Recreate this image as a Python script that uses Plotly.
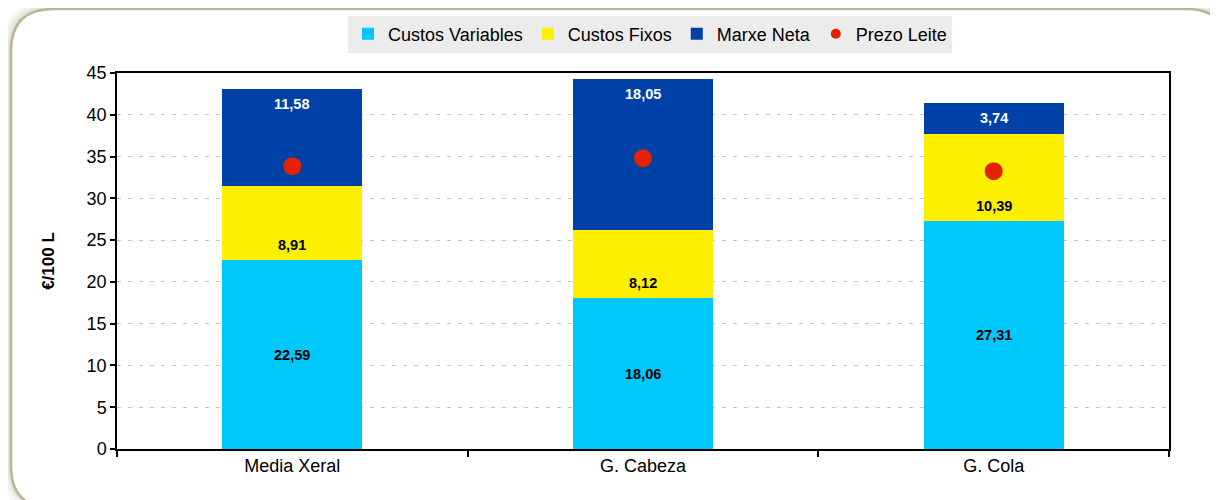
import plotly.graph_objects as go

categories = ["Media Xeral", "G. Cabeza", "G. Cola"]
custos_variables = [22.59, 18.06, 27.31]
custos_fixos = [8.91, 8.12, 10.39]
marxe_neta = [11.58, 18.05, 3.74]
prezo_leite = [33.85, 34.8, 33.25]
y_ticks = [0, 5, 10, 15, 20, 25, 30, 35, 40, 45]

OFF = 8  # page body margin
W, H = 1218 - OFF, 500 - OFF
PL, PR, PT, PB = 117, 1169, 73, 449  # plot area in page pixels
ML, MT = PL - OFF, PT - OFF
MR, MB = W - (PR - OFF), H - (PB - OFF)
PW, PH = PR - PL, PB - PT

C_VAR = "#00c8fa"
C_FIX = "#fcef00"
C_NET = "#0041a8"
C_DOT = "#e42200"
FONT = "Liberation Sans, Arial, sans-serif"

def fmt(v):
    return f"{v:.2f}".replace(".", ",")

fig = go.Figure()
fig.add_trace(go.Bar(x=categories, y=custos_variables, name="Custos Variables",
                     marker=dict(color=C_VAR, line=dict(width=0))))
fig.add_trace(go.Bar(x=categories, y=custos_fixos, name="Custos Fixos",
                     marker=dict(color=C_FIX, line=dict(width=0))))
fig.add_trace(go.Bar(x=categories, y=marxe_neta, name="Marxe Neta",
                     marker=dict(color=C_NET, line=dict(width=0))))
fig.add_trace(go.Scatter(x=categories, y=prezo_leite, mode="markers", name="Prezo Leite",
                         showlegend=False, marker=dict(color=C_DOT, size=18)))
fig.add_trace(go.Scatter(x=categories, y=[None] * len(categories), mode="markers",
                         name="Prezo Leite", marker=dict(color=C_DOT, size=10)))

annotations = []
for i, c in enumerate(categories):
    v, f, n = custos_variables[i], custos_fixos[i], marxe_neta[i]
    annotations.append(dict(x=c, y=v / 2, text=fmt(v), showarrow=False, yanchor="middle",
                            font=dict(size=14.5, color="black", family=FONT, weight="bold")))
    annotations.append(dict(x=c, y=v, text=fmt(f), showarrow=False, yanchor="bottom", yshift=5,
                            font=dict(size=14.5, color="black", family=FONT, weight="bold")))
    annotations.append(dict(x=c, y=v + f + n, text=fmt(n), showarrow=False, yanchor="top", yshift=-5,
                            font=dict(size=14.5, color="white", family=FONT, weight="bold")))

def px_x(px):
    return (px - PL) / PW

def px_y(py):
    return (PB - py) / PH

def rounded_path(x0, y0, x1, y1, r):
    pts = [
        ("M", [(x0 + r, y0)]),
        ("L", [(x1 - r, y0)]),
        ("Q", [(x1, y0), (x1, y0 + r)]),
        ("L", [(x1, y1 - r)]),
        ("Q", [(x1, y1), (x1 - r, y1)]),
        ("L", [(x0 + r, y1)]),
        ("Q", [(x0, y1), (x0, y1 - r)]),
        ("L", [(x0, y0 + r)]),
        ("Q", [(x0, y0), (x0 + r, y0)]),
    ]
    s = ""
    for cmd, ps in pts:
        s += cmd + " " + " ".join(f"{px_x(a):.5f},{px_y(b):.5f}" for a, b in ps) + " "
    return s + "Z"

shapes = []
for w, a, off in [(14, 0.04, -3), (9, 0.06, -2), (5, 0.08, -1)]:
    shapes.append(dict(type="path", xref="paper", yref="paper", layer="below",
                       path=rounded_path(11 + off, 9 + off, 1228, 508, 42),
                       line=dict(color=f"rgba(90,90,70,{a})", width=w)))
shapes.append(dict(type="path", xref="paper", yref="paper", layer="below",
                   path=rounded_path(11, 9, 1228, 508, 42),
                   line=dict(color="#bbb592", width=2.5), fillcolor="white"))

fig.update_layout(
    width=W, height=H,
    margin=dict(l=ML, r=MR, t=MT, b=MB, pad=0, autoexpand=False),
    paper_bgcolor="white", plot_bgcolor="rgba(0,0,0,0)",
    barmode="stack", bargap=0.6,
    font=dict(family=FONT, size=18, color="black"),
    showlegend=True,
    legend=dict(orientation="h", x=px_x(650), xanchor="center", y=px_y(34), yanchor="middle",
                bgcolor="#ececec", font=dict(size=18, color="black", family=FONT),
                itemwidth=30, tracegroupgap=0, traceorder="normal"),
    annotations=annotations,
    shapes=shapes,
)
fig.update_xaxes(type="category", showline=True, linecolor="black", linewidth=1.5, mirror=True,
                 ticks="outside", tickson="boundaries", ticklen=6, tickcolor="black", tickwidth=1.5,
                 showgrid=False, tickfont=dict(size=18), automargin=False)
fig.update_yaxes(range=[0, 45], tickvals=y_ticks, showline=True, linecolor="black", linewidth=1.5,
                 mirror=True, ticks="outside", ticklen=5, tickcolor="black", tickwidth=1.5,
                 showgrid=True, gridcolor="#c4c4c4", griddash="4px,7px", gridwidth=1.2,
                 zeroline=False, tickfont=dict(size=18), automargin=False,
                 title=dict(text="<b>€/100 L</b>", font=dict(size=17), standoff=28))

fig.write_html("out.html")
